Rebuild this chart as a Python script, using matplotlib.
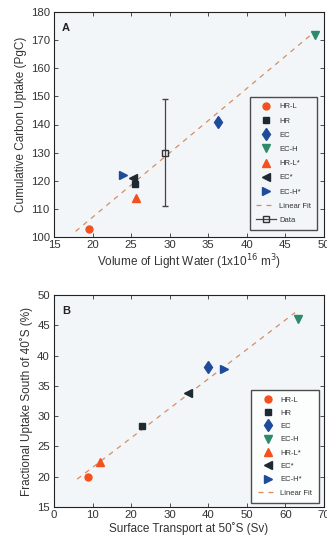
import numpy as np
import matplotlib
matplotlib.use('Agg')
import matplotlib.pyplot as plt

plt.rcParams['font.family'] = ['Liberation Sans', 'DejaVu Sans']

names = ['HR-L', 'HR', 'EC', 'EC-H', 'HR-L*', 'EC*', 'EC-H*']
markers = ['o', 's', 'd', 'v', '^', '<', '>']
colors = ['#f4511e', '#1e2a32', '#1f4c9a', '#2e8b6a', '#f4511e', '#1e2a32', '#1f4c9a']
sizes = [5, 4.2, 6, 5.5, 5.5, 5.5, 5.5]

# panel A
vol_water = [19.5, 25.5, 36.2, 48.8, 25.6, 25.2, 23.9]
carbon_uptake = [103, 119, 141, 172, 114, 121, 122]
fit_a_x = [17.8, 48.8]
fit_a_y = [102.0, 173.0]
obs_vol = 29.4
obs_uptake = 130
obs_err = 19

# panel B
surf_transport = [8.8, 22.8, 40.0, 63.3, 11.8, 34.8, 44.0]
frac_uptake = [20.0, 28.3, 38.1, 46.0, 22.4, 33.8, 37.8]
fit_b_x = [6.0, 62.5]
fit_b_y = [19.6, 47.1]

bg = '#f3f6f9'
fit_color = '#d98c5f'
txt = '#333333'

fig = plt.figure(figsize=(3.27, 5.39), dpi=100)
ax1 = fig.add_axes([54/327, 1-237/539, 270/327, 225/539])
ax2 = fig.add_axes([54/327, 1-507/539, 270/327, 212/539])


def style(ax):
    ax.set_facecolor(bg)
    ax.tick_params(direction='in', top=True, right=True, labelsize=8.2,
                   length=3, width=0.6, pad=2, colors=txt, labelcolor=txt)
    ax.tick_params(axis='y', pad=3)
    for s in ax.spines.values():
        s.set_linewidth(0.8)
        s.set_color('#222222')


def add_legend(ax, face, anchor, spacing):
    leg = ax.legend(loc='lower right', fontsize=5.5, frameon=True, fancybox=False,
                    edgecolor='#222222', borderpad=0.8, labelspacing=spacing,
                    handlelength=2.6, handletextpad=0.4,
                    bbox_to_anchor=anchor, borderaxespad=0)
    leg.get_frame().set_linewidth(1.0)
    leg.get_frame().set_facecolor(face)
    for t in leg.get_texts():
        t.set_color(txt)
    return leg


for i in range(len(names)):
    ax1.plot(vol_water[i], carbon_uptake[i], markers[i], color=colors[i],
             ms=sizes[i], mec=colors[i], label=names[i], zorder=3)
ax1.plot(fit_a_x, fit_a_y, '--', color=fit_color, lw=0.9, dashes=(4, 4),
         label='Linear Fit', zorder=2)
ax1.errorbar(obs_vol, obs_uptake, yerr=obs_err, fmt='s', mfc='none',
             mec='#333333', color='#444444', ms=4.5, lw=0.9, capsize=2.5,
             zorder=4)
# legend entry for the observation: line through an open square
ax1.plot([], [], '-s', color='#444444', mfc='none', mec='#333333', ms=4.5,
         lw=0.9, label='Data')
ax1.set_xlim(15, 50)
ax1.set_ylim(100, 180)
ax1.set_xticks(range(15, 51, 5))
ax1.set_yticks(range(100, 181, 10))
style(ax1)
ax1.set_xlabel('Volume of Light Water (1x10$^{16}$ m$^3$)', fontsize=8.5,
               color=txt, labelpad=2)
ax1.set_ylabel('Cumulative Carbon Uptake (PgC)', fontsize=8.5,
               color=txt, labelpad=3)
ax1.text(0.03, 0.95, 'A', transform=ax1.transAxes, fontsize=8,
         fontweight='bold', va='top', color='#222222')
add_legend(ax1, bg, (0.975, 0.03), 0.9)

for i in range(len(names)):
    ax2.plot(surf_transport[i], frac_uptake[i], markers[i], color=colors[i],
             ms=sizes[i], mec=colors[i], label=names[i], zorder=3)
ax2.plot(fit_b_x, fit_b_y, '--', color=fit_color, lw=0.9, dashes=(4, 4),
         label='Linear Fit', zorder=2)
ax2.set_xlim(0, 70)
ax2.set_ylim(15, 50)
ax2.set_xticks(range(0, 71, 10))
ax2.set_yticks(range(15, 51, 5))
style(ax2)
ax2.set_xlabel('Surface Transport at 50\u02daS (Sv)', fontsize=8.5,
               color=txt, labelpad=2)
ax2.set_ylabel('Fractional Uptake South of 40\u02daS (%)', fontsize=8.5,
               color=txt, labelpad=3)
ax2.text(0.03, 0.95, 'B', transform=ax2.transAxes, fontsize=8,
         fontweight='bold', va='top', color='#222222')
add_legend(ax2, 'white', (0.98, 0.02), 0.78)

fig.savefig('out.png', dpi=100)
